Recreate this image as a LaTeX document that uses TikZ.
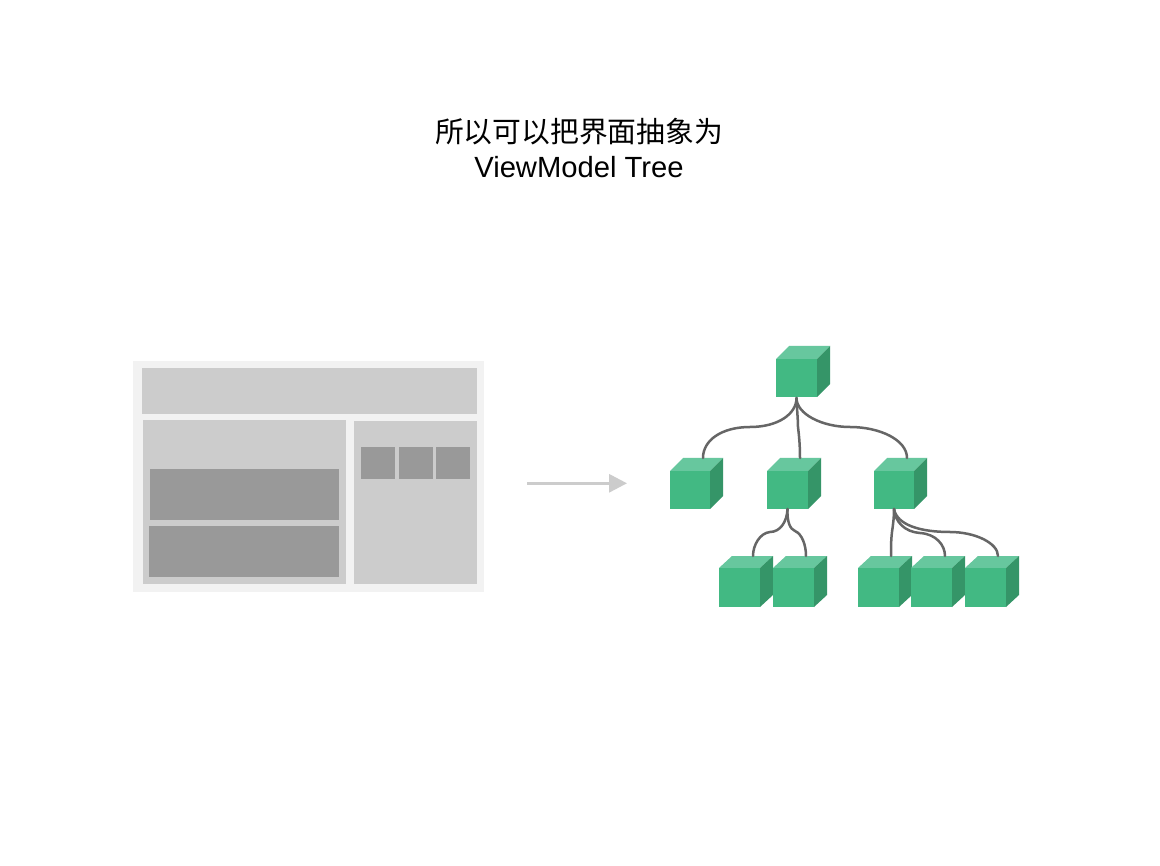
\documentclass[tikz,border=0pt]{standalone}
\usepackage{fontspec}
\setmainfont{Liberation Sans}
\newfontfamily\cjkfont{Noto Sans CJK SC}
\usetikzlibrary{arrows.meta}
\definecolor{cubefront}{HTML}{42B983}
\definecolor{cubetop}{HTML}{67C79E}
\definecolor{cubeside}{HTML}{359568}
\definecolor{lineg}{HTML}{666666}
\tikzset{
  pale/.style={fill=black!5,draw=none},
  midg/.style={fill=black!20,draw=none},
  darkg/.style={fill=black!40,draw=none},
  link/.style={draw=lineg,line width=2.5pt,line cap=round},
}
% \cube{name}{left}{bottom}{front width}{front height}{top rise}
\newcommand{\cube}[6]{%
  \fill[cubetop] (#2,#3-#5) -- (#2+13,#3-#5-#6) -- (#2+#4+13,#3-#5-#6) -- (#2+#4,#3-#5) -- cycle;
  \fill[cubeside] (#2+#4,#3) -- (#2+#4,#3-#5) -- (#2+#4+13,#3-#5-#6) -- (#2+#4+13,#3-#6) -- cycle;
  \node[fill=cubefront,inner sep=0pt,outer sep=0pt,minimum width=#4pt,minimum height=#5pt,anchor=south west] (#1) at (#2,#3) {};
}
\begin{document}
\begin{tikzpicture}[x=1pt,y=-1pt]
\useasboundingbox (0,0) rectangle (1160,866);
\fill[white] (0,0) rectangle (1160,866);
\node[font=\cjkfont\fontsize{28.8pt}{32pt}\selectfont,inner sep=0pt] (t1) at (579,132) {所以可以把界面抽象为};
\node[font=\fontsize{29.2pt}{32pt}\selectfont,inner sep=0pt] (t2) at (579,167) {ViewModel Tree};
% page mock-up
\fill[pale] (133,361) rectangle (484,592);
\fill[midg] (142,368) rectangle (477,414);
\fill[midg] (143,420) rectangle (346,584);
\fill[midg] (354,421) rectangle (477,584);
\fill[darkg] (150,469) rectangle (339,520);
\fill[darkg] (149,526) rectangle (339,577);
\fill[darkg] (361,447) rectangle (395,479);
\fill[darkg] (399,447) rectangle (433,479);
\fill[darkg] (436,447) rectangle (470,479);
% arrow
\coordinate (arrowS) at (527,483.3);
\coordinate (arrowE) at (627,483.3);
\draw[draw=black!20,line width=3pt,-{Triangle[length=18pt,width=18pt,fill=black!20]}] (arrowS) -- (arrowE);
% connector ends on the top faces
\coordinate (aT) at (703,458);
\coordinate (bT) at (800,458);
\coordinate (cT) at (907,458);
\coordinate (dT) at (753,556);
\coordinate (eT) at (806,556);
\coordinate (fT) at (891,556);
\coordinate (gT) at (945,556);
\coordinate (hT) at (998,556);
\coordinate (cB) at (894,509);
\cube{r}{776}{397}{41}{38}{13}
\cube{a}{670}{509}{40}{38}{13}
\cube{b}{767}{509}{41}{38}{13}
\cube{c}{874}{509}{40}{38}{13}
\cube{d}{719}{607}{41}{39}{12}
\cube{e}{773}{607}{41}{39}{12}
\cube{f}{858}{607}{41}{39}{12}
\cube{g}{911}{607}{41}{39}{12}
\cube{h}{965}{607}{41}{39}{12}
% connectors
\draw[link] (r.south) ++(0,1) .. controls +(0,16) and (778,427) .. (750,427) .. controls (722,427) and (703,440) .. (aT);
\draw[link] (r.south) ++(0,1) .. controls (797,410) and (798,420) .. (798,427) .. controls (799,435) and (800,445) .. (bT);
\draw[link] (r.south) ++(0,1) .. controls +(0,16) and (822,427) .. (850,427) .. controls (880,427) and (907,440) .. (cT);
\draw[link] (b.south) .. controls (787,522) and (780,532) .. (770,532) .. controls (760,533) and (753,545) .. (dT);
\draw[link] (b.south) .. controls (787,522) and (790,529) .. (795,531) .. controls (802,534) and (806,545) .. (eT);
\draw[link] (cB) .. controls (894,518) and (893,525) .. (892,532) .. controls (891,540) and (891,548) .. (fT);
\draw[link] (cB) .. controls (895,522) and (905,532) .. (920,533) .. controls (936,534) and (945,545) .. (gT);
\draw[link] (cB) .. controls (897,525) and (920,532) .. (950,532) .. controls (975,532) and (998,543) .. (hT);
\end{tikzpicture}
\end{document}
